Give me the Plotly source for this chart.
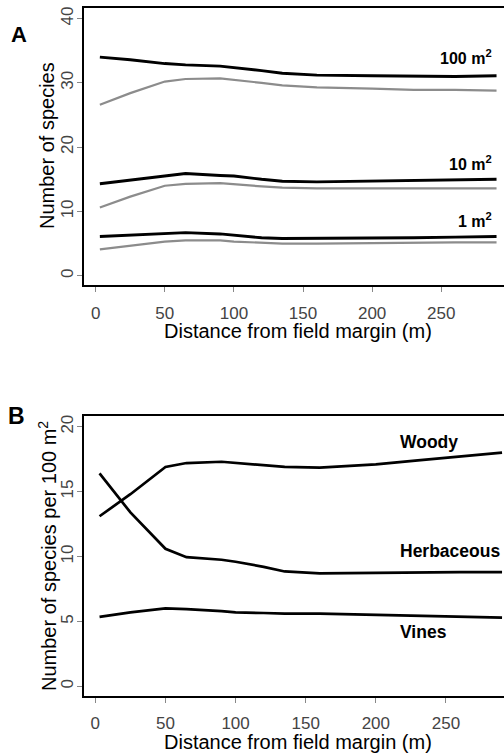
import plotly.graph_objects as go

# ---- data ----
distance = [3, 25, 50, 65, 90, 100, 120, 135, 160, 200, 230, 260, 290]

a_100_black = [34.0, 33.6, 33.0, 32.8, 32.6, 32.4, 31.9, 31.5, 31.2, 31.1, 31.0, 31.0, 31.1]
a_100_gray = [26.6, 28.4, 30.2, 30.6, 30.7, 30.5, 30.0, 29.6, 29.3, 29.1, 28.9, 28.9, 28.8]
a_10_black = [14.3, 14.9, 15.6, 15.9, 15.6, 15.5, 15.0, 14.7, 14.6, 14.7, 14.8, 14.9, 15.0]
a_10_gray = [10.6, 12.3, 14.0, 14.3, 14.4, 14.2, 13.9, 13.7, 13.6, 13.6, 13.6, 13.6, 13.6]
a_1_black = [6.1, 6.3, 6.6, 6.7, 6.5, 6.3, 5.9, 5.8, 5.8, 5.8, 5.9, 6.0, 6.1]
a_1_gray = [4.1, 4.7, 5.3, 5.5, 5.5, 5.3, 5.1, 5.0, 5.0, 5.1, 5.1, 5.2, 5.2]

b_woody = [13.1, 14.8, 16.9, 17.2, 17.3, 17.2, 17.0, 16.9, 16.85, 17.1, 17.4, 17.7, 18.0]
b_herbaceous = [16.4, 13.4, 10.6, 9.95, 9.75, 9.6, 9.2, 8.85, 8.7, 8.75, 8.75, 8.8, 8.8]
b_vines = [5.35, 5.7, 6.0, 5.95, 5.8, 5.7, 5.65, 5.6, 5.6, 5.5, 5.45, 5.4, 5.3]

x_ticks = [0, 50, 100, 150, 200, 250]
a_y_ticks = [0, 10, 20, 30, 40]
b_y_ticks = [0, 5, 10, 15, 20]

a_labels = ["100 m<sup>2</sup>", "10 m<sup>2</sup>", "1 m<sup>2</sup>"]
a_label_y = [34.0, 17.5, 8.6]
b_labels = ["Woody", "Herbaceous", "Vines"]
b_label_y = [18.8, 10.4, 4.2]

BLACK = "#000000"
GRAY = "#8c8c8c"
FONT = "Liberation Sans, Arial, sans-serif"

fig = go.Figure()

def add_line(x, y, color, width, xa, ya):
    fig.add_trace(go.Scatter(x=x, y=y, mode="lines", line=dict(color=color, width=width),
                             xaxis=xa, yaxis=ya, showlegend=False, hoverinfo="skip"))

for yb, yg in [(a_100_black, a_100_gray), (a_10_black, a_10_gray), (a_1_black, a_1_gray)]:
    add_line(distance, yg, GRAY, 2.2, "x", "y")
    add_line(distance, yb, BLACK, 2.9, "x", "y")

for yv in [b_woody, b_herbaceous, b_vines]:
    add_line(distance, yv, BLACK, 2.7, "x2", "y2")

W, H = 504, 756
axis_common = dict(showgrid=False, zeroline=False, showline=False, ticks="outside",
                   ticklen=5, tickwidth=1, tickcolor="#888888",
                   tickfont=dict(family=FONT, size=17, color="#444444"))

fig.update_layout(
    width=W, height=H,
    margin=dict(l=0, r=0, t=0, b=0),
    paper_bgcolor="white", plot_bgcolor="white",
    xaxis=dict(domain=[83 / W, 1.0], range=[-9.2, 295.4], tickvals=x_ticks,
               anchor="y", ticklabelstandoff=7, **axis_common),
    yaxis=dict(domain=[1 - 286 / H, 1 - 7 / H], range=[-1.6, 41.8], tickvals=a_y_ticks,
               anchor="x", tickangle=-90, ticklabelstandoff=-3, **axis_common),
    xaxis2=dict(domain=[83 / W, 1.0], range=[-8.8, 291.4], tickvals=x_ticks,
                anchor="y2", ticklabelstandoff=6, **axis_common),
    yaxis2=dict(domain=[1 - 697 / H, 1 - 415 / H], range=[-0.82, 20.9], tickvals=b_y_ticks,
                anchor="x2", tickangle=-90, ticklabelstandoff=-3, **axis_common),
)

# plot boxes (right side runs off the page as in the reference)
for xr, yr in [("x domain", "y domain"), ("x2 domain", "y2 domain")]:
    fig.add_shape(type="rect", xref=xr, yref=yr, x0=0, x1=1.1, y0=0, y1=1,
                  line=dict(color="black", width=2), fillcolor="rgba(0,0,0,0)")

ann = []
# curve labels panel A
for t, yv in zip(a_labels, a_label_y):
    ann.append(dict(x=288, y=yv, xref="x", yref="y", text="<b>" + t + "</b>", showarrow=False,
                    xanchor="right", yanchor="middle",
                    font=dict(family=FONT, size=16, color="black")))
# curve labels panel B
for t, yv in zip(b_labels, b_label_y):
    ann.append(dict(x=215.5, y=yv, xref="x2", yref="y2", text="<b>" + t + "</b>", showarrow=False,
                    xanchor="left", yanchor="middle",
                    font=dict(family=FONT, size=17.5, color="black")))
# axis titles
for yc, txt in [(1 - 331 / H, "Distance from field margin (m)"), (1 - 742 / H, "Distance from field margin (m)")]:
    ann.append(dict(x=298 / W, y=yc, xref="paper", yref="paper", text=txt, showarrow=False,
                    xanchor="center", yanchor="middle", font=dict(family=FONT, size=20, color="black")))
ann.append(dict(x=47 / W, y=1 - 146 / H, xref="paper", yref="paper", text="Number of species",
                showarrow=False, textangle=-90, xanchor="center", yanchor="middle",
                font=dict(family=FONT, size=20, color="black")))
ann.append(dict(x=47 / W, y=1 - (370 + 186) / H, xref="paper", yref="paper",
                text="Number of species per 100 m<sup>2</sup>",
                showarrow=False, textangle=-90, xanchor="center", yanchor="middle",
                font=dict(family=FONT, size=20, color="black")))
# panel letters
ann.append(dict(x=19 / W, y=1 - 34 / H, xref="paper", yref="paper", text="<b>A</b>", showarrow=False,
                xanchor="center", yanchor="middle", font=dict(family=FONT, size=22, color="black")))
ann.append(dict(x=16 / W, y=1 - 416 / H, xref="paper", yref="paper", text="<b>B</b>", showarrow=False,
                xanchor="center", yanchor="middle", font=dict(family=FONT, size=23, color="black")))

fig.update_layout(annotations=ann)
fig.write_html("out.html", config={"displayModeBar": False},
               post_script="document.body.style.margin='0';document.body.style.padding='0';")
